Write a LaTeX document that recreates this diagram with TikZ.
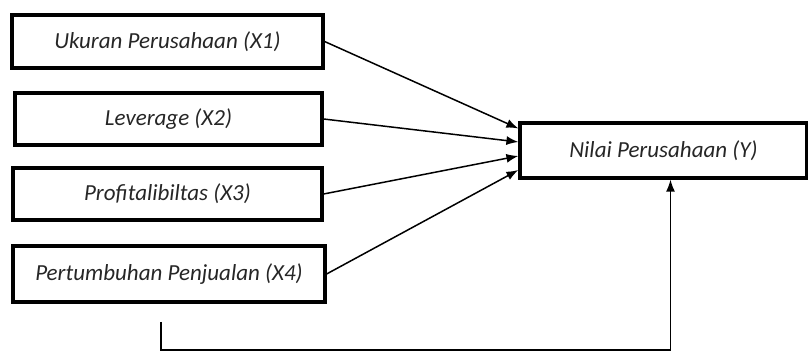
\documentclass[tikz,border=0pt]{standalone}
\usepackage{fontspec}
\setmainfont{Carlito}
\usetikzlibrary{arrows.meta}

\tikzset{
  varbox/.style={draw, line width=3.2pt, minimum height=53pt, inner sep=0pt,
    font=\itshape\fontsize{23}{27}\selectfont, text=black!85},
  link/.style={line width=1.5pt, -{Latex[length=12pt,width=9pt]}},
}

\begin{document}
\begin{tikzpicture}[x=1pt,y=-1pt]
  \useasboundingbox (0,0) rectangle (808,352);

  \node[varbox, minimum width=311pt] (x1) at (167.5,41.5) {Ukuran Perusahaan (X1)};
  \node[varbox, minimum width=307pt, minimum height=52pt] (x2) at (168.5,119) {Leverage (X2)};
  \node[varbox, minimum width=309pt, minimum height=52pt] (x3) at (167.5,194) {Profitalibiltas (X3)};
  \node[varbox, minimum width=312pt, minimum height=56pt] (x4) at (169,274) {Pertumbuhan Penjualan (X4)};

  \node[varbox, minimum width=287pt, minimum height=55pt] (y) at (663.5,150.5) {Nilai Perusahaan (Y)};

  \coordinate (b1) at (161,322);
  \coordinate (b2) at (161,350);

  \draw[link] (x1.east) -- ([yshift=22pt]y.west);
  \draw[link] (x2.east) -- ([yshift=8.5pt]y.west);
  \draw[link] (x3.east) -- ([yshift=-5.5pt]y.west);
  \draw[link] (x4.east) -- ([yshift=-19.5pt]y.west);
  \draw[link] (b1) -- (b2) -| ([xshift=7pt]y.south);
\end{tikzpicture}
\end{document}
